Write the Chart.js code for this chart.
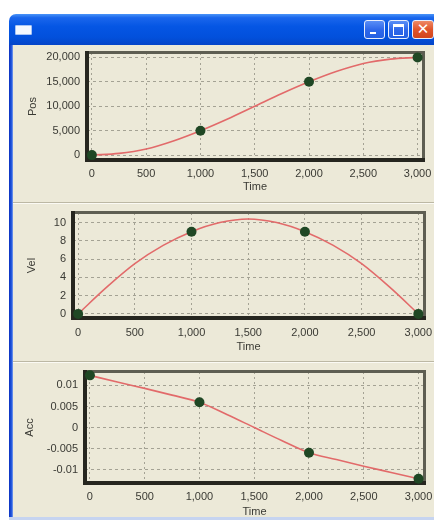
<!DOCTYPE html>
<html>
<head>
<meta charset="utf-8">
<script src="https://cdn.jsdelivr.net/npm/chart.js@4/dist/chart.umd.min.js"></script>
<style>
body { margin: 0; width: 434px; height: 525px; background: #fff; position: relative; overflow: hidden; }
.abs { position: absolute; }
#titlebar { left: 9px; top: 14px; width: 440px; height: 31px; border-radius: 7px 7px 0 0;
  background: linear-gradient(#4a94f8 0%, #1a66ec 12%, #0556e4 40%, #0250dc 75%, #0445c8 100%); }
#leftedge { left: 9px; top: 45px; width: 4px; height: 474px;
  background: linear-gradient(90deg, #0a30c0, #1f55dc 60%, #7fa0ee); }
#client { left: 13px; top: 45px; width: 430px; height: 472px; background: #ece9d8; }
#bottomedge { left: 9px; top: 517px; width: 430px; height: 3px; background: #c6d4f0; }
.sep { left: 13px; width: 430px; height: 1px; background: #bcb8a4; border-bottom: 1px solid #fbfaf4; }
#icon { left: 15px; top: 25px; width: 15px; height: 8px; background: #f4f8ff; border: 1px solid #a8c4f4; border-radius: 1px; }
.btn { top: 20px; width: 19px; height: 17px; border: 1px solid #e8eefc; border-radius: 3px;
  background: linear-gradient(#5a8ef6, #2f68ea 50%, #2560e2); }
#bclose { background: linear-gradient(#ee8a66, #e0542a 50%, #d2461c); }
canvas { position: absolute; left: 13px; }
</style>
</head>
<body>
<div id="titlebar" class="abs"></div>
<div id="icon" class="abs"></div>
<div class="abs btn" style="left:364px"><div class="abs" style="left:5px;top:11px;width:6px;height:2px;background:#fff"></div></div>
<div class="abs btn" style="left:388px"><div class="abs" style="left:4px;top:3px;width:9px;height:8px;border:1px solid #fff;border-top-width:3px"></div></div>
<div id="bclose" class="abs btn" style="left:412px;width:20px"><div class="abs" style="left:0;top:-1px;width:20px;text-align:center;color:#fff;font:bold 15px 'DejaVu Sans'">✕</div></div>
<div id="leftedge" class="abs"></div>
<div id="client" class="abs"></div>
<div class="abs sep" style="top:202px"></div>
<div class="abs sep" style="top:361px"></div>
<div id="bottomedge" class="abs"></div>
<canvas id="posChart" width="421" height="156" style="top:46px"></canvas>
<canvas id="velChart" width="421" height="157" style="top:204px"></canvas>
<canvas id="accChart" width="421" height="162" style="top:363px"></canvas>
<script>
// knot points (green markers)
var timeKnots = [0, 1000, 2000, 3000];
var posKnots = [0, 5000, 15000, 20000];
var velKnots = [0, 9, 9, 0];
var accKnots = [0.0124, 0.006, -0.006, -0.0122];

var timeCurve = [0, 250, 500, 750, 1000, 1250, 1500, 1750, 2000, 2250, 2500, 2750, 3000];
var posCurve = [0, 350, 1250, 2900, 5000, 7400, 10000, 12600, 15000, 17100, 18750, 19650, 20000];
var velCurve = [0, 2.9, 5.5, 7.5, 9.0, 10.0, 10.4, 10.0, 9.0, 7.5, 5.5, 2.9, 0];
var accCurve = [0.0124, 0.0108, 0.0093, 0.0077, 0.006, 0.0031, 0, -0.0031, -0.006, -0.0076, -0.0092, -0.0107, -0.0122];

// axis ticks
var timeTicks = [0, 500, 1000, 1500, 2000, 2500, 3000];
var posTicks = [0, 5000, 10000, 15000, 20000];
var velTicks = [0, 2, 4, 6, 8, 10];
var accTicks = [-0.01, -0.005, 0, 0.005, 0.01];

var FONT = { family: "'Liberation Sans', Arial, sans-serif", size: 11 };
var TEXT = "#3a3a34";
var LH = 13.2;

var framePlugin = {
    id: "frame",
    beforeDatasetsDraw: function (chart) {
        var a = chart.chartArea, c = chart.ctx;
        c.save();
        c.fillStyle = "#5e5e52";
        c.fillRect(a.left - 2, a.top - 2, a.right - a.left + 4, 3);
        c.fillRect(a.right - 1, a.top - 2, 3, a.bottom - a.top + 4);
        c.fillStyle = "#26261f";
        c.fillRect(a.left - 2, a.top - 2, 4, a.bottom - a.top + 4);
        c.fillRect(a.left - 2, a.bottom - 2, a.right - a.left + 4, 4);
        c.restore();
    }
};

function toPoints(xs, ys) {
    var pts = [];
    for (let i = 0; i < xs.length; i++) {
        pts.push({ x: xs[i], y: ys[i] });
    }
    return pts;
}

function makePlot(id, name, curve, knots, yTicks, yMin, yMax, fmt, box) {
    var canvas = document.getElementById(id);
    var W = canvas.width, H = canvas.height;
    return new Chart(canvas, {
        type: "line",
        data: {
            datasets: [
                {
                    data: toPoints(timeKnots, knots),
                    showLine: false,
                    pointRadius: 5,
                    pointBackgroundColor: "#1f4724",
                    pointBorderColor: "#1f4724",
                    pointBorderWidth: 0,
                    clip: false,
                    order: 0,
                },
                {
                    data: toPoints(timeCurve, curve),
                    borderColor: "#e26a6a",
                    borderWidth: 1.6,
                    pointRadius: 0,
                    cubicInterpolationMode: "monotone",
                    fill: false,
                    order: 1,
                },
            ],
        },
        options: {
            responsive: false,
            animation: false,
            layout: { padding: { left: 0, right: W - box.right, top: box.top, bottom: 0 } },
            plugins: { legend: { display: false }, tooltip: { enabled: false } },
            scales: {
                x: {
                    type: "linear",
                    min: -45,
                    max: 3050,
                    afterBuildTicks: function (s) { s.ticks = timeTicks.map(v => ({ value: v })); },
                    afterFit: function (s) { s.height = H - box.bottom; s.paddingLeft = 0; s.paddingRight = 0; },
                    grid: { color: "#a4a294", lineWidth: 1, drawTicks: false },
                    border: { display: false, dash: [2, 3] },
                    ticks: {
                        color: TEXT, font: FONT, padding: box.xTick - box.bottom - LH / 2, maxRotation: 0,
                        callback: v => v.toLocaleString("en-US"),
                    },
                    title: { display: true, text: "Time", color: TEXT, font: FONT,
                        padding: { top: 0, bottom: H - box.xTitle - LH / 2 } },
                },
                y: {
                    type: "linear",
                    min: yMin,
                    max: yMax,
                    afterBuildTicks: function (s) { s.ticks = yTicks.map(v => ({ value: v })); },
                    afterFit: function (s) { s.width = box.left; s.paddingTop = 0; s.paddingBottom = 0; },
                    grid: { color: "#a4a294", lineWidth: 1, drawTicks: false },
                    border: { display: false, dash: [3, 3] },
                    ticks: { color: TEXT, font: FONT, padding: 7, callback: fmt },
                    title: { display: true, text: name, color: TEXT, font: FONT,
                        padding: { top: box.yTitle - LH / 2, bottom: 0 } },
                },
            },
        },
        plugins: [framePlugin],
    });
}

makePlot("posChart", "Pos", posCurve, posKnots, posTicks, -1000, 20900,
    v => v.toLocaleString("en-US"),
    { left: 74, right: 410, top: 7, bottom: 114, yTitle: 20.3, xTick: 128, xTitle: 141 });

makePlot("velChart", "Vel", velCurve, velKnots, velTicks, -0.45, 11.05,
    v => String(v),
    { left: 60, right: 411, top: 9, bottom: 114, yTitle: 18.7, xTick: 129, xTitle: 143 });

makePlot("accChart", "Acc", accCurve, accKnots, accTicks, -0.0132, 0.0132,
    v => String(v),
    { left: 72, right: 411, top: 9, bottom: 120, yTitle: 17, xTick: 134, xTitle: 149 });
</script>
</body>
</html>
